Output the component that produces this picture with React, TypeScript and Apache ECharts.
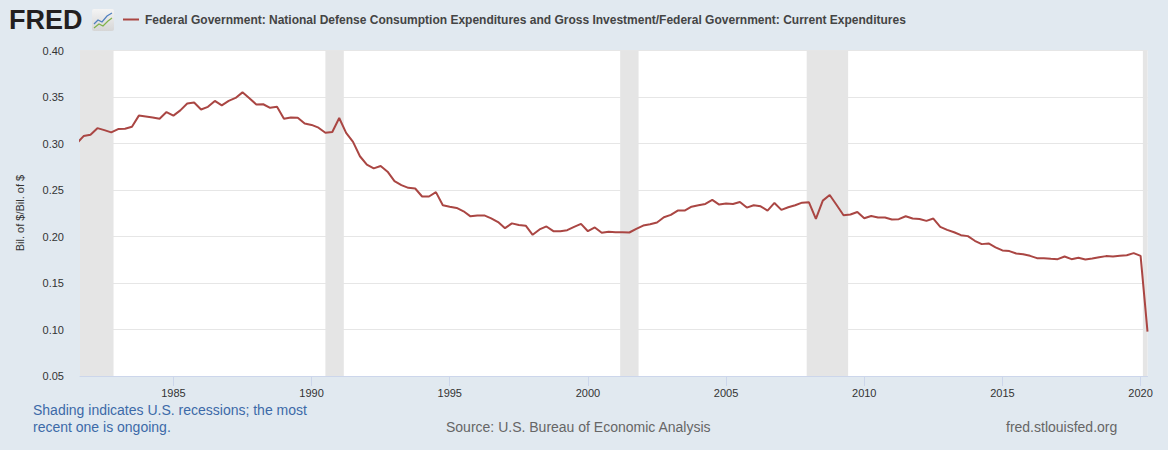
import React, { useEffect, useRef } from "react";
import * as echarts from "echarts";

// Quarterly series, first observation 1981 Q3
const startYear = 1981;
const startQuarter = 3;

const values1981to1989 = [
  0.300, 0.308, 0.3095, 0.3165, 0.3144, 0.312, 0.3155, 0.3158, 0.318, 0.330,
  0.329, 0.328, 0.3267, 0.3338, 0.330, 0.3356, 0.343, 0.344, 0.3366, 0.3394,
  0.3458, 0.341, 0.3458, 0.349, 0.355, 0.3486, 0.342, 0.3422, 0.3384, 0.3394,
  0.3267, 0.328, 0.3278, 0.3215,
];
const values1990s = [
  0.320, 0.317, 0.3115, 0.3123, 0.3274, 0.3115, 0.3018, 0.2863, 0.2773, 0.2733,
  0.2758, 0.2697, 0.2596, 0.2552, 0.2523, 0.2516, 0.243, 0.243, 0.2477, 0.2336,
  0.2321, 0.2307, 0.2271, 0.2217, 0.2227, 0.2227, 0.2195, 0.2155, 0.209, 0.2141,
  0.2123, 0.2116, 0.2018, 0.2076, 0.2108, 0.2057, 0.2057, 0.2068, 0.2104, 0.2136,
];
const values2000s = [
  0.2057, 0.2097, 0.204, 0.205, 0.2047, 0.2047, 0.2043, 0.2082, 0.2118, 0.2132,
  0.215, 0.2207, 0.2232, 0.2279, 0.2279, 0.2321, 0.2336, 0.235, 0.2393, 0.2343,
  0.2354, 0.235, 0.2371, 0.2311, 0.2336, 0.2325, 0.2279, 0.2361, 0.2286, 0.2314,
  0.2336, 0.2364, 0.2368, 0.2189, 0.2386, 0.2446, 0.2339, 0.2229, 0.2236, 0.2264,
];
const values2010s = [
  0.2196, 0.2221, 0.2204, 0.2204, 0.2182, 0.2186, 0.2218, 0.2193, 0.2189, 0.2168,
  0.2193, 0.2104, 0.2071, 0.2046, 0.2014, 0.2004, 0.1954, 0.1918, 0.1925, 0.1884,
  0.185, 0.1843, 0.1817, 0.181, 0.1792, 0.1767, 0.1767, 0.176, 0.1756, 0.1785,
  0.1756, 0.1771, 0.1753, 0.1763, 0.1778, 0.1789, 0.1785, 0.1792, 0.1799, 0.1821,
];
const values2020 = [0.1792, 0.0978];

const xTickYears = [1985, 1990, 1995, 2000, 2005, 2010, 2015, 2020];

const recessions: [string, string][] = [
  ["1981-07-01", "1982-11-01"],
  ["1990-07-01", "1991-03-01"],
  ["2001-03-01", "2001-11-01"],
  ["2007-12-01", "2009-06-01"],
  ["2020-02-01", "2020-04-01"],
];

const titleText =
  "Federal Government: National Defense Consumption Expenditures and Gross Investment/Federal Government: Current Expenditures";
const yAxisName = "Bil. of $/Bil. of $";
const noteLine1 = "Shading indicates U.S. recessions; the most";
const noteLine2 = "recent one is ongoing.";
const sourceText = "Source: U.S. Bureau of Economic Analysis";
const siteText = "fred.stlouisfed.org";

const X_MIN = 1981.62;
const X_MAX = 2020.25;

const toDecimalYear = (d: string) => {
  const [y, m] = d.split("-").map(Number);
  return y + (m - 1) / 12;
};

const FONT = "'Liberation Sans', Arial, sans-serif";

export default function App() {
  const ref = useRef<HTMLDivElement>(null);
  useEffect(() => {
    if (!ref.current) return;
    const chart = echarts.init(ref.current, null, { renderer: "svg" });
    const allValues = [
      ...values1981to1989,
      ...values1990s,
      ...values2000s,
      ...values2010s,
      ...values2020,
    ];
    const start = startYear + (startQuarter - 1) / 4;
    const data = allValues.map((v, i) => [start + i * 0.25, v]);
    const areas = recessions.map(([a, b]) => [
      { xAxis: Math.max(toDecimalYear(a), X_MIN) },
      { xAxis: Math.min(toDecimalYear(b), X_MAX) },
    ]);

    chart.setOption({
      animation: false,
      backgroundColor: "#e1e9f0",
      textStyle: { fontFamily: FONT },
      grid: {
        left: 80,
        right: 20.5,
        top: 50.5,
        bottom: 74,
        show: true,
        backgroundColor: "#ffffff",
        borderWidth: 0,
      },
      xAxis: {
        type: "value",
        min: X_MIN,
        max: X_MAX,
        splitLine: { show: false },
        axisLine: { show: true, lineStyle: { color: "#ccd6eb", width: 1 } },
        axisTick: {
          show: true,
          length: 10,
          lineStyle: { color: "#ccd6eb" },
          customValues: xTickYears,
        },
        axisLabel: {
          color: "#333333",
          fontSize: 11,
          margin: 11,
          customValues: xTickYears,
          formatter: (v: number) => String(Math.round(v)),
        },
      },
      yAxis: {
        type: "value",
        min: 0.05,
        max: 0.4,
        interval: 0.05,
        axisLine: { show: false },
        axisTick: { show: false },
        splitLine: { lineStyle: { color: "#e6e6e6", width: 1 } },
        axisLabel: {
          color: "#333333",
          fontSize: 11,
          margin: 16,
          formatter: (v: number) => v.toFixed(2),
        },
      },
      series: [
        {
          type: "line",
          name: "recessions",
          data: [],
          z: 1,
          silent: true,
          markArea: {
            silent: true,
            itemStyle: { color: "#e5e5e5" },
            data: areas,
          },
        },
        {
          type: "line",
          name: titleText,
          data,
          z: 3,
          showSymbol: false,
          clip: true,
          lineStyle: { color: "#aa4643", width: 2 },
          itemStyle: { color: "#aa4643" },
        },
      ],
      graphic: [
        {
          type: "text",
          x: 9,
          y: 6,
          style: {
            text: "FRED",
            fontSize: 27,
            fontWeight: 900,
            fontFamily: FONT,
            fill: "#231f20",
          },
        },
        {
          type: "group",
          x: 92,
          y: 9,
          children: [
            {
              type: "rect",
              shape: { x: 0, y: 0, width: 22, height: 22, r: 2 },
              style: {
                fill: new echarts.graphic.LinearGradient(0, 0, 0, 1, [
                  { offset: 0, color: "#f4f4f4" },
                  { offset: 1, color: "#d6d6d6" },
                ]),
              },
            },
            {
              type: "polyline",
              shape: { points: [[2, 15], [6, 11], [10, 13], [15, 7], [20, 4]] },
              style: { stroke: "#4f7fbf", lineWidth: 1.2, fill: "none" },
            },
            {
              type: "polyline",
              shape: { points: [[2, 19], [7, 15], [11, 17], [16, 12], [20, 9]] },
              style: { stroke: "#7fb24a", lineWidth: 1.2, fill: "none" },
            },
          ],
        },
        {
          type: "line",
          shape: { x1: 123, y1: 19.5, x2: 139, y2: 19.5 },
          style: { stroke: "#aa4643", lineWidth: 2 },
        },
        {
          type: "text",
          x: 145,
          y: 19.5,
          style: {
            text: titleText,
            fontSize: 12,
            fontWeight: "bold",
            fontFamily: FONT,
            fill: "#444444",
            textVerticalAlign: "middle",
          },
        },
        {
          type: "text",
          x: 20,
          y: 213,
          rotation: Math.PI / 2,
          style: {
            text: yAxisName,
            fontSize: 11,
            fontFamily: FONT,
            fill: "#333333",
            textAlign: "center",
            textVerticalAlign: "middle",
          },
        },
        {
          type: "text",
          x: 33,
          y: 410,
          style: {
            text: noteLine1,
            fontSize: 14,
            fontFamily: FONT,
            fill: "#3c6aa8",
            textVerticalAlign: "middle",
          },
        },
        {
          type: "text",
          x: 33,
          y: 427,
          style: {
            text: noteLine2,
            fontSize: 14,
            fontFamily: FONT,
            fill: "#3c6aa8",
            textVerticalAlign: "middle",
          },
        },
        {
          type: "text",
          x: 446,
          y: 427,
          style: {
            text: sourceText,
            fontSize: 14,
            fontFamily: FONT,
            fill: "#666666",
            textVerticalAlign: "middle",
          },
        },
        {
          type: "text",
          x: 1006,
          y: 427,
          style: {
            text: siteText,
            fontSize: 14,
            fontFamily: FONT,
            fill: "#666666",
            textVerticalAlign: "middle",
          },
        },
      ],
    });
    return () => chart.dispose();
  }, []);

  return (
    <div
      ref={ref}
      style={{ position: "fixed", left: 0, top: 0, width: 1168, height: 450 }}
    />
  );
}
